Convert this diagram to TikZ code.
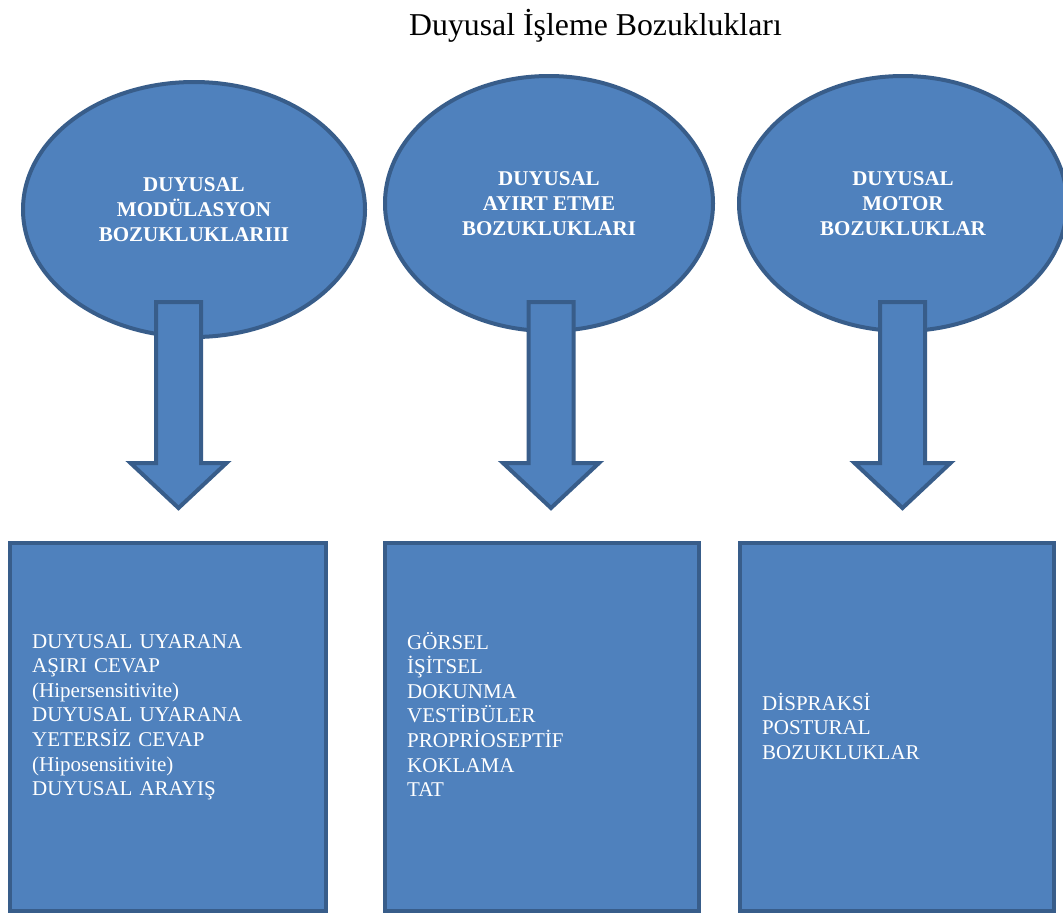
\documentclass[tikz,border=0pt]{standalone}
\usepackage{fontspec}
\setmainfont{Liberation Serif}
\usetikzlibrary{shapes.geometric,calc}
\definecolor{fillblue}{HTML}{4F81BD}
\definecolor{edgeblue}{HTML}{385D8A}
\newcommand{\fatarrow}[2]{%
  \draw[bigarrow] ($(#1)+(-22.5,0)$) -- ($(#2)+(-22.5,-45)$) -- ($(#2)+(-48,-45)$) -- (#2)
    -- ($(#2)+(48,-45)$) -- ($(#2)+(22.5,-45)$) -- ($(#1)+(22.5,0)$) -- cycle;}
\begin{document}
\begin{tikzpicture}[x=1pt,y=-1pt,
  oval/.style={ellipse, draw=edgeblue, fill=fillblue, line width=4pt, inner sep=0pt,
    text=white, font=\fontsize{21}{25}\selectfont\bfseries, align=center},
  panel/.style={rectangle, draw=edgeblue, fill=fillblue, line width=4.5pt, inner sep=0pt,
    minimum height=368pt},
  paneltext/.style={anchor=base west, text=white, inner sep=0pt, text width=300pt,
    align=left, font=\fontsize{21}{24.6}\selectfont},
  bigarrow/.style={draw=edgeblue, fill=fillblue, line width=4pt, line join=miter}]
\useasboundingbox (0,0) rectangle (1063,916);
\fill[white] (0,0) rectangle (1063,916);

\node[anchor=base, inner sep=0pt, font=\fontsize{31.8}{38}\selectfont] (title) at (595.5,35) {Duyusal İşleme Bozuklukları};

\node[oval, minimum width=342pt, minimum height=255pt] (e1) at (194,209.5) {DUYUSAL\\MODÜLASYON\\BOZUKLUKLARIII};
\node[oval, minimum width=328pt, minimum height=255pt] (e2) at (549,203.5) {DUYUSAL\\AYIRT ETME\\BOZUKLUKLARI};
\node[oval, minimum width=328pt, minimum height=255pt] (e3) at (903,203.5) {DUYUSAL\\MOTOR\\BOZUKLUKLAR};

\coordinate (s1) at (178.5,302);
\coordinate (t1) at (178.5,508);
\coordinate (s2) at (551,302);
\coordinate (t2) at (551,508);
\coordinate (s3) at (902.5,302);
\coordinate (t3) at (902.5,508);
\fatarrow{s1}{t1}
\fatarrow{s2}{t2}
\fatarrow{s3}{t3}

\node[panel, minimum width=316pt] (b1) at (168,727) {};
\node[panel, minimum width=314pt] (b2) at (542,727) {};
\node[panel, minimum width=314pt] (b3) at (897,727) {};

\node[paneltext] (l1) at (32,648) {DUYUSAL UYARANA\\AŞIRI CEVAP\\(Hipersensitivite)\\DUYUSAL UYARANA\\YETERSİZ CEVAP\\(Hiposensitivite)\\DUYUSAL ARAYIŞ};
\node[paneltext] (l2) at (407,649) {GÖRSEL\\İŞİTSEL\\DOKUNMA\\VESTİBÜLER\\PROPRİOSEPTİF\\KOKLAMA\\TAT};
\node[paneltext] (l3) at (762,710) {DİSPRAKSİ\\POSTURAL\\BOZUKLUKLAR};
\end{tikzpicture}
\end{document}
